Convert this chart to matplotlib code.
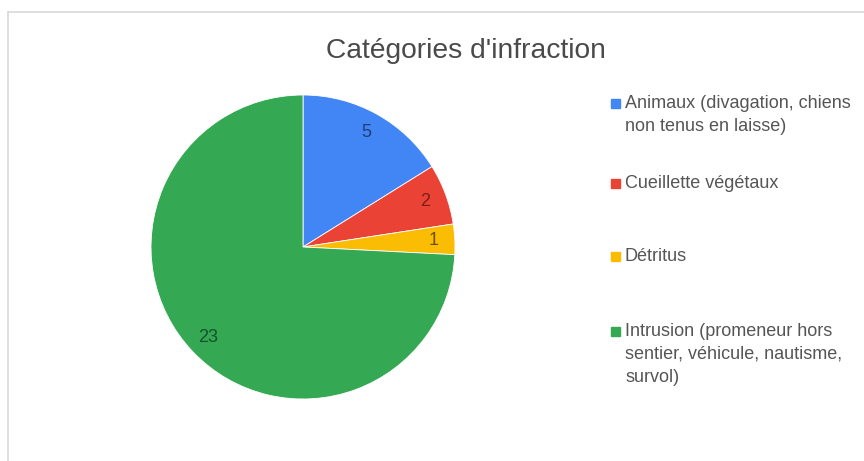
import matplotlib
matplotlib.use("Agg")
import matplotlib.pyplot as plt
from matplotlib.patches import Rectangle

plt.rcParams['font.family'] = ['Liberation Sans', 'DejaVu Sans']

categories = ["Animaux (divagation, chiens\nnon tenus en laisse)",
              "Cueillette végétaux",
              "Détritus",
              "Intrusion (promeneur hors\nsentier, véhicule, nautisme,\nsurvol)"]
values = [5, 2, 1, 23]
colors = ["#4285F4", "#EA4335", "#FBBC04", "#34A853"]
label_colors = ["#1f3f77", "#7a2019", "#6b5200", "#17522a"]
title = "Catégories d'infraction"

W, H = 864, 461
fig = plt.figure(figsize=(W/100, H/100), dpi=100)
fig.patch.set_facecolor("white")

# light border (top & left visible)
fig.add_artist(plt.Line2D([8/W, 1], [1-12/H, 1-12/H], color="#d9d9d9", lw=1.2, transform=fig.transFigure))
fig.add_artist(plt.Line2D([8/W, 8/W], [0, 1-12/H], color="#d9d9d9", lw=1.2, transform=fig.transFigure))

cx, cy, r = 303, 247, 152
ax = fig.add_axes([(cx-r)/W, (H-cy-r)/H, 2*r/W, 2*r/H])
wedges, texts = ax.pie(values, colors=colors, startangle=90, counterclock=False,
                       labels=[str(v) for v in values], labeldistance=0.86,
                       wedgeprops=dict(linewidth=0.6, edgecolor="white"),
                       textprops=dict(fontsize=13))
for t, c in zip(texts, label_colors):
    t.set_color(c)
    t.set_ha('center')
    t.set_va('center')
ax.set_xlim(-1, 1)
ax.set_ylim(-1, 1)
ax.set_aspect('equal')
ax.axis('off')

fig.text(466/W, 1-51/H, title, ha='center', va='center', fontsize=20.3, color="#4a4a4a")

tops = [104, 184, 257, 332]
for lab, col, ty in zip(categories, colors, tops):
    fig.add_artist(Rectangle((611/W, 1-(ty+4)/H), 9/W, 9/H, color=col, transform=fig.transFigure))
    fig.text(625/W, 1-(ty-9)/H, lab, ha='left', va='top', fontsize=13,
             color="#555555", linespacing=1.45)

fig.savefig("out.png", dpi=100)
